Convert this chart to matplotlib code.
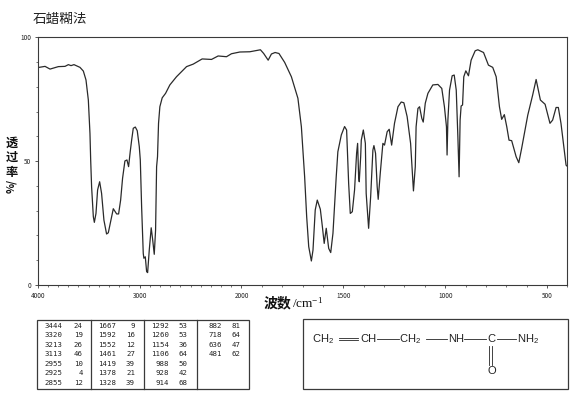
import numpy as np
import matplotlib
matplotlib.use('Agg')
import matplotlib.pyplot as plt

plt.rcParams['font.family'] = ['Noto Sans CJK SC', 'DejaVu Sans']
plt.rcParams['mathtext.default'] = 'regular'

# espectro: numero de onda (cm-1) e transmitancia (%)
wavenumber = [4000, 3928, 3879, 3797, 3732, 3699, 3673, 3644, 3585, 3552, 3526, 3503, 3487, 3480,
              3471, 3454, 3444, 3428, 3412, 3392, 3373, 3350, 3324, 3307, 3281, 3258, 3225, 3206,
              3186, 3167, 3144, 3124, 3108, 3092, 3078, 3062, 3042, 3023, 3003, 2993, 2980, 2964,
              2958, 2944, 2931, 2921, 2905, 2886, 2873, 2856, 2843, 2833, 2824, 2814, 2801, 2778,
              2745, 2703, 2638, 2539, 2474, 2386, 2294, 2229, 2147, 2098, 2016, 1959, 1907, 1891,
              1869, 1853, 1835, 1816, 1788, 1755, 1723, 1706, 1690, 1680, 1670, 1657, 1649, 1638,
              1628, 1613, 1603, 1594, 1584, 1572, 1562, 1551, 1535, 1527, 1510, 1494, 1484, 1474,
              1466, 1456, 1445, 1437, 1435, 1430, 1425, 1422, 1415, 1412, 1402, 1392, 1388, 1376,
              1366, 1355, 1350, 1342, 1334, 1329, 1319, 1309, 1306, 1298, 1285, 1275, 1263, 1249,
              1232, 1216, 1203, 1187, 1170, 1162, 1156, 1147, 1143, 1134, 1126, 1115, 1108, 1098,
              1085, 1061, 1036, 1017, 1004, 994, 991, 987, 979, 966, 956, 946, 938, 932,
              927, 922, 915, 909, 899, 886, 873, 853, 840, 812, 788, 767, 750, 734,
              723, 710, 698, 687, 674, 652, 639, 625, 595, 571, 554, 543, 533, 510,
              486, 473, 456, 445, 432, 407, 402]
transmittance = [87.8, 88.3, 87.2, 88.2, 88.3, 89, 88.6, 89, 87.9, 86.4, 82.8, 74.7, 61.2, 50.5,
                 39.7, 27.6, 25.3, 28.9, 38.4, 41.7, 37, 26.2, 20.6, 21.1, 26.2, 30.8, 28.7, 28.7,
                 34.3, 43.1, 50.1, 50.5, 47.8, 53.8, 58.5, 63.3, 63.8, 62.3, 55.9, 50.5, 31.6, 12.8,
                 10.8, 11.4, 5.4, 5, 14.1, 23.1, 18.8, 12.4, 22.2, 47.8, 51.8, 65.3, 72, 75.6,
                 77.4, 80.8, 84.1, 88.2, 89.2, 91.3, 91.1, 92.5, 92.2, 93.4, 94.1, 94.2, 95, 93.5,
                 90.8, 93.3, 93.9, 93.5, 89.9, 84.1, 75.4, 63.9, 43.7, 27.6, 15.5, 9.7, 14.1, 30.3,
                 34.3, 30.6, 23.6, 16.8, 22.9, 14.8, 13.1, 20.9, 43.7, 53.8, 60.6, 64, 62.6, 41,
                 28.9, 29.6, 38.4, 50.5, 53.2, 57.2, 43.7, 41.7, 51.8, 58.5, 62.6, 57.2, 37, 22.9,
                 35.7, 54.5, 56.3, 53.2, 39.7, 34.6, 45, 54.5, 57.2, 56.5, 61.9, 62.9, 56.5, 65.3,
                 72, 73.9, 73.6, 68, 57.2, 46.4, 38, 47.8, 63.9, 71.3, 72, 67.3, 65.8, 73.4,
                 77.4, 80.8, 81, 79.4, 72, 63.9, 52.5, 66.6, 78.7, 84.5, 84.8, 78.7, 59.9, 43.7,
                 66.6, 72.3, 72.7, 84.1, 86.5, 84.5, 90.8, 94.6, 95, 93.9, 88.8, 87.9, 84.1, 72,
                 66.9, 68.8, 63.9, 58.5, 58.3, 51.8, 49.4, 55.2, 68.6, 76.7, 83, 78.7, 74.7, 73,
                 65.3, 66.6, 71.7, 71.7, 65.3, 48.4, 48]

x_major = [4000, 3000, 2000, 1500, 1000, 500]
y_major = [0, 50, 100]

# tabela de picos, uma lista por coluna
col1_wn = [3444, 3320, 3213, 3113, 2955, 2925, 2855]
col1_t = [24, 19, 26, 46, 10, 4, 12]
col2_wn = [1667, 1592, 1552, 1461, 1419, 1378, 1328]
col2_t = [9, 16, 12, 27, 39, 21, 39]
col3_wn = [1292, 1260, 1154, 1106, 988, 928, 914]
col3_t = [53, 53, 36, 64, 50, 42, 68]
col4_wn = [882, 718, 636, 481]
col4_t = [81, 64, 47, 62]

LINHA = '#3a3a3a'


def forward(w):
    # acima de 2000 a escala fica comprimida pela metade
    w = np.asarray(w, dtype=float)
    return np.where(w > 2000, 2000 + (w - 2000) / 2, w)


def inverse(v):
    v = np.asarray(v, dtype=float)
    return np.where(v > 2000, 2000 + (v - 2000) * 2, v)


W, H = 570, 394
fig = plt.figure(figsize=(W / 100, H / 100), dpi=100)
ax = fig.add_axes([37.7 / W, 1 - 285 / H, (567.5 - 37.7) / W, (285 - 37.4) / H])
ax.set_xscale('function', functions=(forward, inverse))
ax.plot(wavenumber, transmittance, color='#2a2a2a', lw=0.9)
ax.set_xlim(4000, 400)
ax.set_ylim(0, 100)

ax.set_xticks(x_major)
ax.set_xticks(np.arange(400, 4000, 100), minor=True)
ax.set_yticks(y_major)
ax.set_yticks(np.arange(0, 101, 10), minor=True)
ax.tick_params(which='major', length=2.2, width=0.6, labelsize=4.6, pad=2.5, color=LINHA, labelcolor='#222222')
ax.tick_params(which='minor', length=1.2, width=0.5, color=LINHA)
for s in ax.spines.values():
    s.set_linewidth(0.8)
    s.set_color(LINHA)

# camada em pixels para textos, tabela e estrutura
ov = fig.add_axes([0, 0, 1, 1], facecolor='none')
ov.set_xlim(0, W)
ov.set_ylim(H, 0)
ov.axis('off')

ov.text(32.5, 18.5, '石蜡糊法', fontsize=9.8, ha='left', va='center', color='#222222')
for ch, y in zip('透过率', [143, 157.5, 172]):
    ov.text(12, y, ch, fontsize=8.8, fontweight='bold', ha='center', va='center', color='#111111')
ov.text(11, 186, '%/', fontsize=7.5, fontweight='bold', rotation=90, ha='center', va='center', color='#111111')
ov.text(264, 303, '波数', fontsize=10, fontweight='bold', ha='left', va='center', color='#111111')
ov.text(292.5, 303, '/cm$^{-1}$', fontsize=9.5, ha='left', va='center', family='Liberation Serif', color='#111111')

# tabela
ov.add_patch(plt.Rectangle((37.3, 319.5), 212, 69.5, fill=False, ec=LINHA, lw=0.9))
for x in [91, 143.7, 196.7]:
    ov.plot([x, x], [319.5, 389], color=LINHA, lw=0.9)
row_y = 325.7 + 9.5 * np.arange(7)
colunas = [(col1_wn, col1_t, 62.7, 82.7), (col2_wn, col2_t, 116, 135),
           (col3_wn, col3_t, 169, 187.7), (col4_wn, col4_t, 221.7, 241)]
for wn, t, x1, x2 in colunas:
    for a, b, y in zip(wn, t, row_y):
        ov.text(x1, y, str(a), fontsize=5.3, ha='right', va='center', family='DejaVu Sans Mono', color='#222222')
        ov.text(x2, y, str(b), fontsize=5.3, ha='right', va='center', family='DejaVu Sans Mono', color='#222222')

# estrutura
ov.add_patch(plt.Rectangle((302.5, 318.5), 265, 70.5, fill=False, ec=LINHA, lw=0.9))
fs = dict(fontsize=8, ha='left', va='center', family='Liberation Sans', color='#222222')
y_s = 339.5
ov.text(311.5, y_s, 'CH$_2$', **fs)
ov.text(360.5, y_s, 'CH', **fs)
ov.text(399, y_s, 'CH$_2$', **fs)
ov.text(448, y_s, 'NH', **fs)
ov.text(487.5, y_s, 'C', **fs)
ov.text(517, y_s, 'NH$_2$', **fs)
ov.text(487, 370.5, 'O', **fs)
for x0, x1 in [(377, 399), (426, 447), (464, 486), (497, 516)]:
    ov.plot([x0, x1], [y_s - 0.5, y_s - 0.5], color='#222222', lw=0.6)
for dy in [-1.5, 0.8]:
    ov.plot([339, 358], [y_s + dy, y_s + dy], color='#222222', lw=0.6)
for x in [488.5, 491.5]:
    ov.plot([x, x], [346, 365], color='#222222', lw=0.6)

fig.savefig('out.png', dpi=100)
